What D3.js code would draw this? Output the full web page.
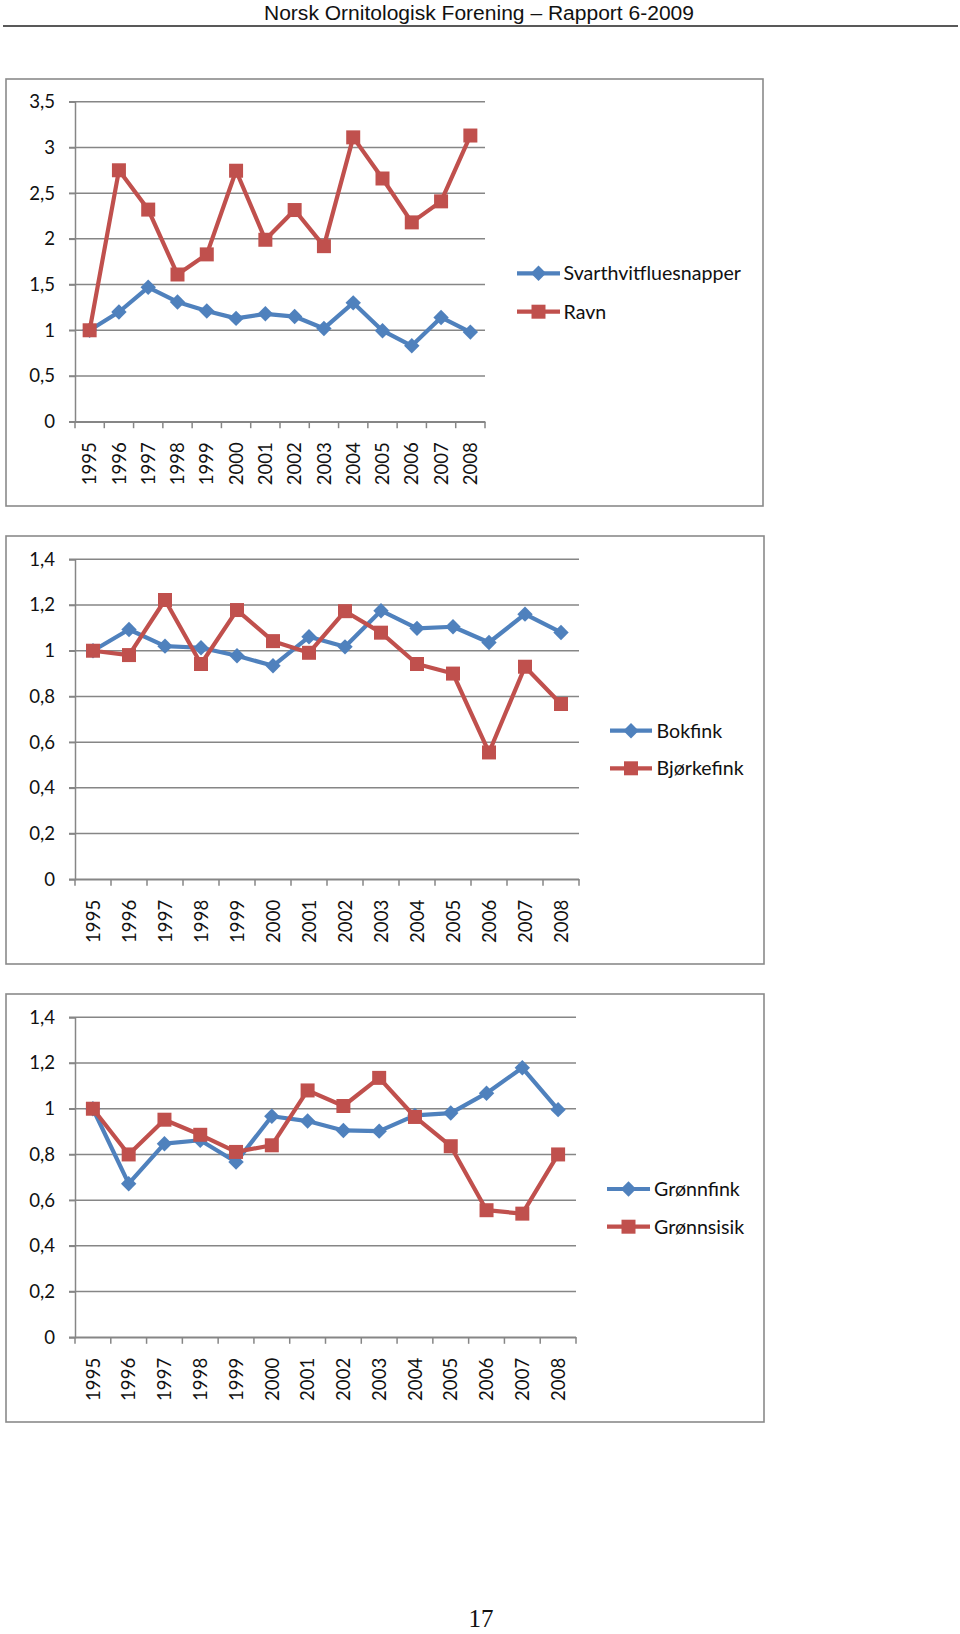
<!DOCTYPE html>
<html>
<head>
<meta charset="utf-8">
<script src="https://cdn.jsdelivr.net/npm/d3@7/dist/d3.min.js"></script>
<style>
  html, body { margin: 0; padding: 0; background: #fff; }
  svg { display: block; }
</style>
</head>
<body>
<svg id="page" width="960" height="1634"></svg>
<script>
// ---------- DATA ----------
const years = ["1995","1996","1997","1998","1999","2000","2001","2002","2003","2004","2005","2006","2007","2008"];

const svarthvitfluesnapper = [1.00, 1.20, 1.47, 1.31, 1.21, 1.13, 1.18, 1.15, 1.02, 1.30, 0.995, 0.83, 1.14, 0.98];
const ravn                 = [1.00, 2.75, 2.32, 1.61, 1.83, 2.745, 1.99, 2.315, 1.92, 3.11, 2.66, 2.18, 2.41, 3.13];

const bokfink    = [1.00, 1.093, 1.02, 1.013, 0.978, 0.934, 1.061, 1.017, 1.175, 1.098, 1.105, 1.036, 1.16, 1.08];
const bjorkefink = [1.00, 0.981, 1.222, 0.942, 1.178, 1.042, 0.991, 1.173, 1.079, 0.942, 0.90, 0.555, 0.93, 0.767];

const gronnfink  = [1.00, 0.672, 0.847, 0.862, 0.767, 0.967, 0.946, 0.905, 0.902, 0.971, 0.981, 1.068, 1.179, 0.996];
const gronnsisik = [1.00, 0.80, 0.952, 0.886, 0.811, 0.84, 1.08, 1.012, 1.135, 0.964, 0.836, 0.556, 0.541, 0.80];

const yTicksA = [0, 0.5, 1, 1.5, 2, 2.5, 3, 3.5];
const yTicksB = [0, 0.2, 0.4, 0.6, 0.8, 1, 1.2, 1.4];

const headerText = "Norsk Ornitologisk Forening \u2013 Rapport 6-2009";
const pageNumber = "17";

// ---------- STYLE / LAYOUT ----------
const BLUE = "#4F81BD", RED = "#C0504D", GRID = "#868686", BORDER = "#8a8a8a";
const FONT = "Lato, 'Open Sans', sans-serif";
const TICK_FS = 18.6, LEG_FS = 19.6;

const nb = d3.formatLocale({decimal: ",", thousands: " ", grouping: [3], currency: ["", " kr"]});
const fmt = nb.format("~g");

const charts = [
  { box: {x: 6, y: 79, w: 757, h: 427}, plot: {x0: 75, x1: 485, top: 101.7, bot: 421.7},
    ticks: yTicksA,
    series: [{name: "Svarthvitfluesnapper", values: svarthvitfluesnapper, color: BLUE, marker: "diamond"},
             {name: "Ravn", values: ravn, color: RED, marker: "square"}],
    legend: {lx0: 517, lx1: 560, tx: 563.5, ys: [273.3, 311.7]} },
  { box: {x: 6, y: 536, w: 758, h: 428}, plot: {x0: 75, x1: 579, top: 559.3, bot: 879.3},
    ticks: yTicksB,
    series: [{name: "Bokfink", values: bokfink, color: BLUE, marker: "diamond"},
             {name: "Bjørkefink", values: bjorkefink, color: RED, marker: "square"}],
    legend: {lx0: 610, lx1: 652, tx: 656.5, ys: [730.7, 768.3]} },
  { box: {x: 6, y: 994, w: 758, h: 428}, plot: {x0: 75, x1: 576, top: 1017.3, bot: 1337.3},
    ticks: yTicksB,
    series: [{name: "Grønnfink", values: gronnfink, color: BLUE, marker: "diamond"},
             {name: "Grønnsisik", values: gronnsisik, color: RED, marker: "square"}],
    legend: {lx0: 607, lx1: 650, tx: 654, ys: [1189, 1226.7]} }
];

const svg = d3.select("#page");

// Header
svg.append("text")
  .attr("x", 479).attr("y", 20)
  .attr("text-anchor", "middle")
  .attr("font-family", "'Liberation Sans', Arial, sans-serif")
  .attr("font-size", 20)
  .attr("textLength", 430).attr("lengthAdjust", "spacingAndGlyphs")
  .attr("fill", "#111")
  .text(headerText);
svg.append("line")
  .attr("x1", 3).attr("x2", 958).attr("y1", 26).attr("y2", 26)
  .attr("stroke", "#222").attr("stroke-width", 1.5);

function markerPath(type, s) {
  if (type === "square") return `M${-s},${-s}H${s}V${s}H${-s}Z`;
  const d = s * 1.1;
  return `M0,${-d}L${d},0L0,${d}L${-d},0Z`;
}

charts.forEach(c => {
  const g = svg.append("g");
  g.append("rect")
    .attr("x", c.box.x).attr("y", c.box.y).attr("width", c.box.w).attr("height", c.box.h)
    .attr("fill", "#fff").attr("stroke", BORDER).attr("stroke-width", 1.6);

  const y = d3.scaleLinear().domain([0, d3.max(c.ticks)]).range([c.plot.bot, c.plot.top]);
  const x = d3.scaleBand().domain(years).range([c.plot.x0, c.plot.x1]).paddingInner(0).paddingOuter(0);
  const cx = d => x(d) + x.bandwidth() / 2;

  g.append("g").selectAll("line").data(c.ticks).join("line")
    .attr("x1", c.plot.x0 - 6).attr("x2", c.plot.x1)
    .attr("y1", d => y(d)).attr("y2", d => y(d))
    .attr("stroke", GRID).attr("stroke-width", 1.5);

  const yAxis = d3.axisLeft(y).tickValues(c.ticks).tickFormat(fmt).tickSize(6).tickPadding(14);
  const ya = g.append("g").attr("transform", `translate(${c.plot.x0},0)`).call(yAxis);
  ya.select(".domain").attr("stroke", GRID).attr("stroke-width", 1.5);
  ya.selectAll(".tick line").attr("stroke", GRID).attr("stroke-width", 1.5);
  ya.selectAll(".tick text").attr("font-family", FONT).attr("font-size", TICK_FS).attr("fill", "#111");

  const xa = d3.axisBottom(x).tickSize(0).tickFormat(d => d);
  const xg = g.append("g").attr("transform", `translate(0,${c.plot.bot})`).call(xa);
  xg.select(".domain").attr("stroke", GRID).attr("stroke-width", 1.5);
  xg.selectAll(".tick text")
    .attr("font-family", FONT).attr("font-size", TICK_FS).attr("fill", "#111")
    .attr("text-anchor", "end")
    .attr("transform", "translate(0,20.5) rotate(-90)")
    .attr("x", 0).attr("y", 0).attr("dy", "0.36em");
  const bounds = years.map(d => x(d)).concat([c.plot.x1]);
  g.append("g").selectAll("line").data(bounds).join("line")
    .attr("x1", d => d).attr("x2", d => d)
    .attr("y1", c.plot.bot).attr("y2", c.plot.bot + 6.5)
    .attr("stroke", GRID).attr("stroke-width", 1.5);

  const line = d3.line().x((v, i) => cx(years[i])).y(v => y(v));
  c.series.forEach(s => {
    const sg = g.append("g");
    sg.append("path").attr("d", line(s.values))
      .attr("fill", "none").attr("stroke", s.color).attr("stroke-width", 4.2)
      .attr("stroke-linejoin", "round");
    sg.selectAll("path.m").data(s.values).join("path").attr("class", "m")
      .attr("transform", (v, i) => `translate(${cx(years[i])},${y(v)})`)
      .attr("d", markerPath(s.marker, 7))
      .attr("fill", s.color);
  });

  c.series.forEach((s, i) => {
    const ly = c.legend.ys[i];
    g.append("line").attr("x1", c.legend.lx0).attr("x2", c.legend.lx1)
      .attr("y1", ly).attr("y2", ly)
      .attr("stroke", s.color).attr("stroke-width", 4.2);
    g.append("path")
      .attr("transform", `translate(${(c.legend.lx0 + c.legend.lx1) / 2},${ly})`)
      .attr("d", markerPath(s.marker, 7)).attr("fill", s.color);
    g.append("text").attr("x", c.legend.tx).attr("y", ly).attr("dy", "0.36em")
      .attr("font-family", FONT).attr("font-size", LEG_FS).attr("fill", "#111")
      .text(s.name);
  });
});

// Page number
svg.append("text")
  .attr("x", 481).attr("y", 1627)
  .attr("text-anchor", "middle")
  .attr("font-family", "'Liberation Serif', 'Times New Roman', serif")
  .attr("font-size", 25).attr("fill", "#111")
  .text(pageNumber);
</script>
</body>
</html>
